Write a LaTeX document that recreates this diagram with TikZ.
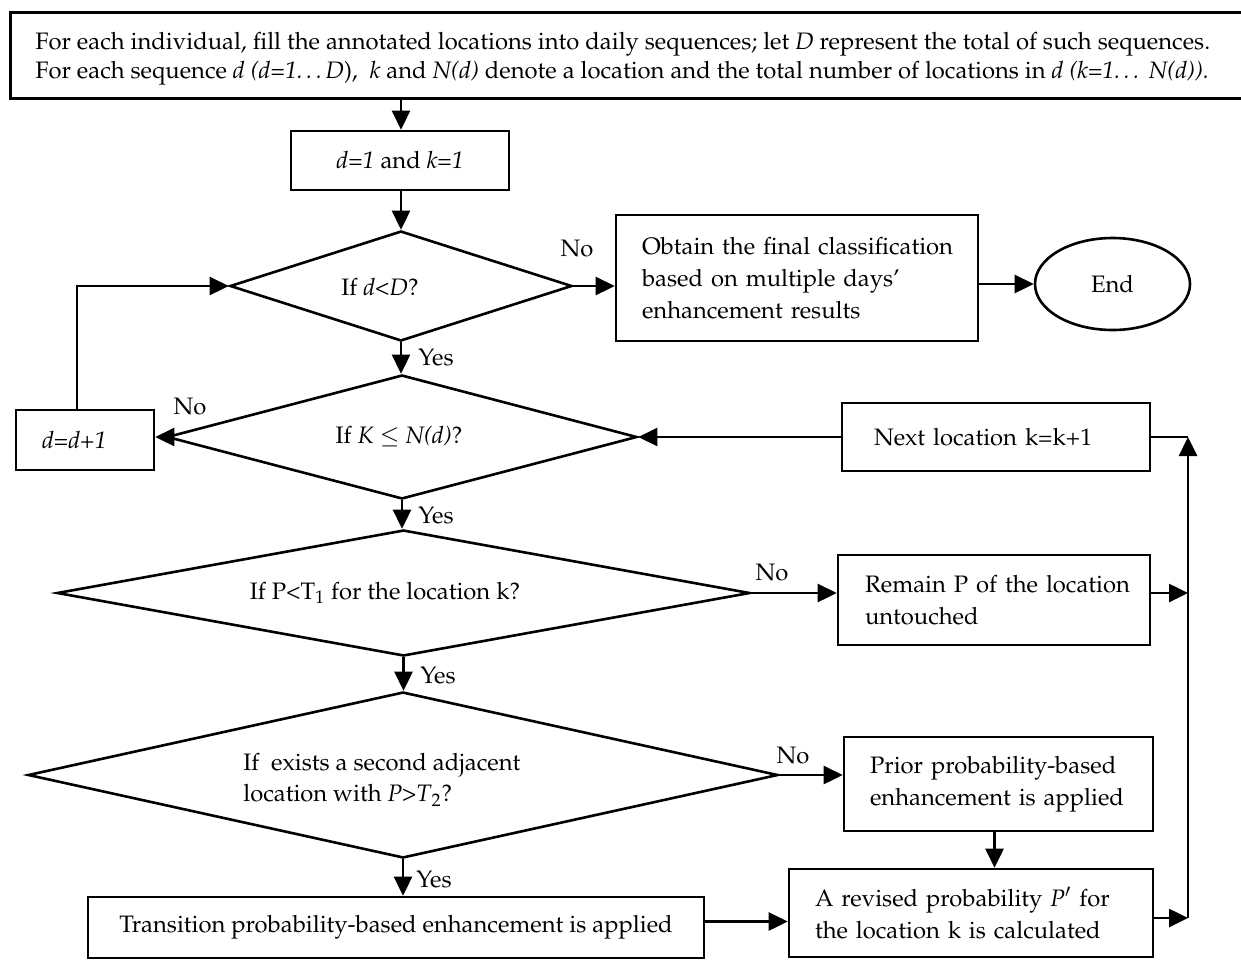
\documentclass[tikz,border=0pt]{standalone}
\usepackage[T1]{fontenc}
\usepackage{mathpazo}
\usetikzlibrary{shapes.geometric,arrows.meta}
\begin{document}
\begin{tikzpicture}[x=0.5pt,y=-0.5pt,
  every node/.style={font=\fontsize{11.9}{16}\selectfont},
  box/.style={draw, line width=1.3pt, inner sep=0pt},
  topbox/.style={draw, line width=1.6pt, inner sep=0pt},
  dia/.style={draw, diamond, line width=1.3pt, inner sep=0pt},
  lbl/.style={inner sep=0pt},
  arr/.style={line width=1.3pt, -{Triangle[length=9.5pt,width=9pt]}},
  ln/.style={line width=1.3pt}]
\clip (0,0) rectangle (1241,959);
\fill[white] (0,0) rectangle (1241,959);
% nodes
\node[topbox, anchor=north west, minimum width=622pt, minimum height=43pt] (top) at (9,11) {};
\node[lbl, anchor=west, align=left, font=\fontsize{11.9}{14.5}\selectfont] (toptext) at (35,59)
 {For each individual, fill the annotated locations into daily sequences; let \textit{D} represent the total of such sequences.\\
  For each sequence \textit{d (d=1\ldots D}),\ \ \textit{k} and \textit{N(d)} denote a location and the total number of locations in \textit{d (k=1\ldots\ N(d)).}};
\node[box, minimum width=109pt, minimum height=29.5pt] (d1) at (400,160.5) {\textit{d=1} and \textit{k=1}};
\node[dia, minimum width=171pt, minimum height=55pt] (dia1) at (401,286) {};
\node[lbl] (t1) at (380,287) {If \textit{d\textless D}?};
\node[box, align=left, text width=155pt, minimum width=181pt, minimum height=63pt] (obtain) at (797,278)
 {\mbox{Obtain the final classification}\\\mbox{based on multiple days'}\\\mbox{enhancement results}};
\node[draw, ellipse, line width=1.3pt, minimum width=77.5pt, minimum height=46pt] (end) at (1112.5,284) {End};
\node[dia, minimum width=235pt, minimum height=62pt] (dia2) at (402,437) {};
\node[lbl] (t2) at (399,437) {If \textit{K} $\leq$ \textit{N(d)}?};
\node[box, align=left, text width=43pt, minimum width=69pt, minimum height=30pt] (dplus) at (85,440) {\mbox{\textit{d=d+1}}};
\node[box, align=left, text width=122pt, minimum width=154pt, minimum height=34pt] (next) at (996,437) {\mbox{Next location k=k+1}};
\node[dia, minimum width=346.5pt, minimum height=63pt] (dia3) at (403.5,593) {};
\node[lbl] (t3) at (385,593) {If P\textless T\textsubscript{1} for the location k?};
\node[box, align=left, text width=129pt, minimum width=156pt, minimum height=45pt] (remain) at (994,600)
 {\mbox{Remain P of the location}\\\mbox{untouched}};
\node[dia, minimum width=375pt, minimum height=83pt] (dia4) at (403,775) {};
\node[lbl, anchor=west, align=left, font=\fontsize{11.9}{15.5}\selectfont] (t4) at (243,780)
 {If\ \ exists a second adjacent\\location with \textit{P}\textgreater\textit{T}\textsubscript{2}?};
\node[box, align=left, text width=128.5pt, minimum width=154.5pt, minimum height=47pt] (prior) at (998.5,784)
 {\mbox{Prior probability-based}\\\mbox{enhancement is applied}};
\node[box, align=left, text width=156pt, minimum width=182pt, minimum height=44pt] (revised) at (971,913)
 {\mbox{A revised probability \textit{P}$'$ for}\\\mbox{the location k is calculated}};
\node[box, minimum width=308pt, minimum height=30.5pt] (trans) at (396,927.5)
 {Transition probability-based enhancement is applied};
\coordinate (vtop) at (1188,437);
\coordinate (vbot) at (1188,918);
% labels
\node[lbl] (no1) at (577,249) {No};
\node[lbl, anchor=west] (yes1) at (418,358) {Yes};
\node[lbl] (no2) at (190,407) {No};
\node[lbl, anchor=west] (yes2) at (418,515) {Yes};
\node[lbl] (no3) at (772,572) {No};
\node[lbl, anchor=west] (yes3) at (420,675) {Yes};
\node[lbl] (no4) at (793,755) {No};
\node[lbl, anchor=west] (yes4) at (416,879) {Yes};
% connectors
\draw[arr] (top.south -| dia1.north) -- (dia1.north |- d1.north);
\draw[arr] (d1.south -| dia1.north) -- (dia1.north);
\draw[arr] (dia1.east) -- (dia1.east -| obtain.west);
\draw[arr] (obtain.east |- end.west) -- (end.west);
\draw[arr] (dia1.south) -- (dia1.south |- dia2.north);
\draw[arr] (dia2.west) -- (dia2.west -| dplus.east);
\draw[arr] ([xshift=-4pt]dplus.north) |- (dia1.west);
\draw[arr] (next.west) -- (dia2.east);
\draw[arr] (vbot) -- (vtop);
\draw[ln] (next.east) -- (vtop);
\draw[arr] (dia2.south) -- (dia2.south |- dia3.north);
\draw[arr] (dia3.east) -- (dia3.east -| remain.west);
\draw[arr] (remain.east |- dia3.east) -- (dia3.east -| vtop);
\draw[arr] (dia3.south) -- (dia3.south |- dia4.north);
\draw[arr] (dia4.east) -- (dia4.east -| prior.west);
\draw[arr] ([xshift=-2pt]prior.south) -- ([xshift=-2pt]prior.south |- revised.north);
\draw[arr] (dia4.south) -- (dia4.south |- trans.north);
\draw[arr] ([yshift=3pt]trans.east) -- ([yshift=3pt]trans.east -| revised.west);
\draw[arr] (revised.east |- vbot) -- (vbot);
\end{tikzpicture}
\end{document}
